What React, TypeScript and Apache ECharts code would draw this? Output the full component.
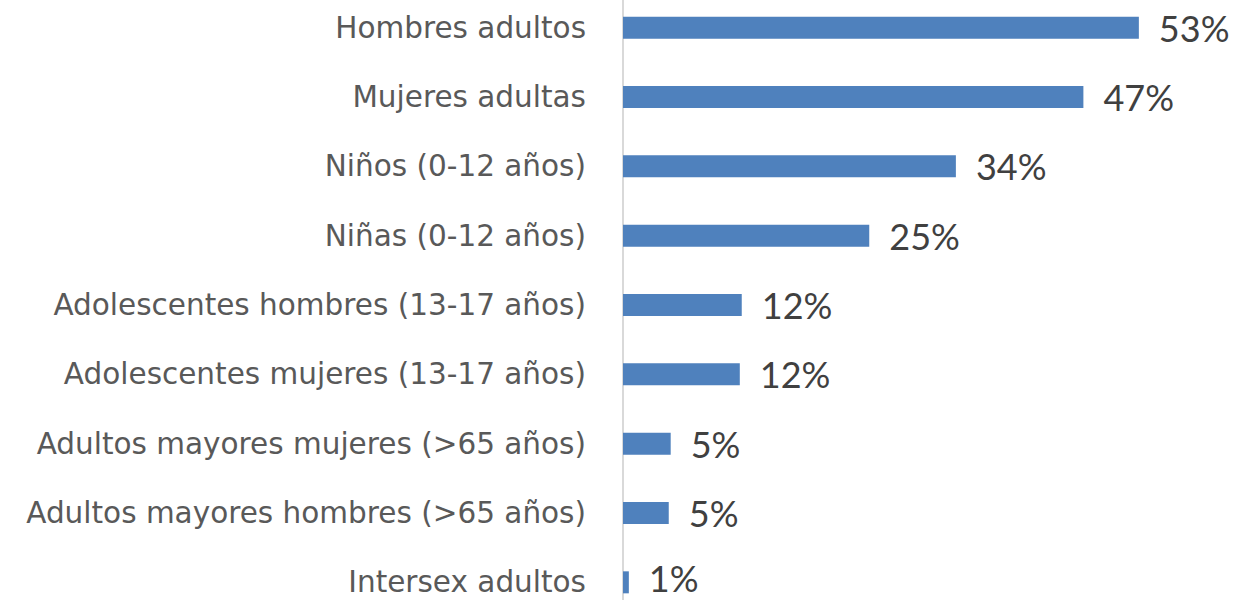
import React, { useEffect, useRef } from "react";
import * as echarts from "echarts";

const categories = [
  "Hombres adultos",
  "Mujeres adultas",
  "Niños (0-12 años)",
  "Niñas (0-12 años)",
  "Adolescentes hombres (13-17 años)",
  "Adolescentes mujeres (13-17 años)",
  "Adultos mayores mujeres (>65 años)",
  "Adultos mayores hombres (>65 años)",
  "Intersex adultos",
];
const values = [53.0, 47.3, 34.2, 25.3, 12.2, 12.0, 4.9, 4.7, 0.6];
const valueLabels = ["53%", "47%", "34%", "25%", "12%", "12%", "5%", "5%", "1%"];

export default function App() {
  const ref = useRef<HTMLDivElement>(null);
  useEffect(() => {
    document.body.style.margin = "0";
    const chart = echarts.init(ref.current!, null, { renderer: "svg" });
    const seriesData = values.map((v, i) =>
      i === values.length - 1 ? { value: v, label: { offset: [0, -4] } } : v
    );
    chart.setOption({
      animation: false,
      textStyle: { fontFamily: "Lato" },
      grid: { left: 623, right: 32, top: 0, bottom: 0, containLabel: false },
      xAxis: {
        type: "value",
        min: 0,
        max: 60,
        show: false,
      },
      yAxis: {
        type: "category",
        data: categories,
        inverse: true,
        axisLine: { show: true, lineStyle: { color: "#d9d9d9", width: 2 } },
        axisTick: { show: false },
        axisLabel: { color: "#595959", fontSize: 29.5, margin: 37, fontFamily: "DejaVu Sans" },
      },
      series: [
        {
          type: "bar",
          data: seriesData,
          barWidth: 22,
          itemStyle: { color: "#4f81bd" },
          label: {
            show: true,
            position: "right",
            distance: 20,
            color: "#404040",
            fontSize: 36,
            lineHeight: 32,
            fontFamily: "Lato",
            offset: [0, 0],
            formatter: (p: any) => valueLabels[p.dataIndex],
          },
        },
      ],
    });
    return () => chart.dispose();
  }, []);
  return (
    <div style={{ width: 1239, height: 600, overflow: "hidden", position: "relative" }}>
      <div ref={ref} style={{ width: 1239, height: 624, position: "absolute", top: -7, left: 0 }} />
    </div>
  );
}
